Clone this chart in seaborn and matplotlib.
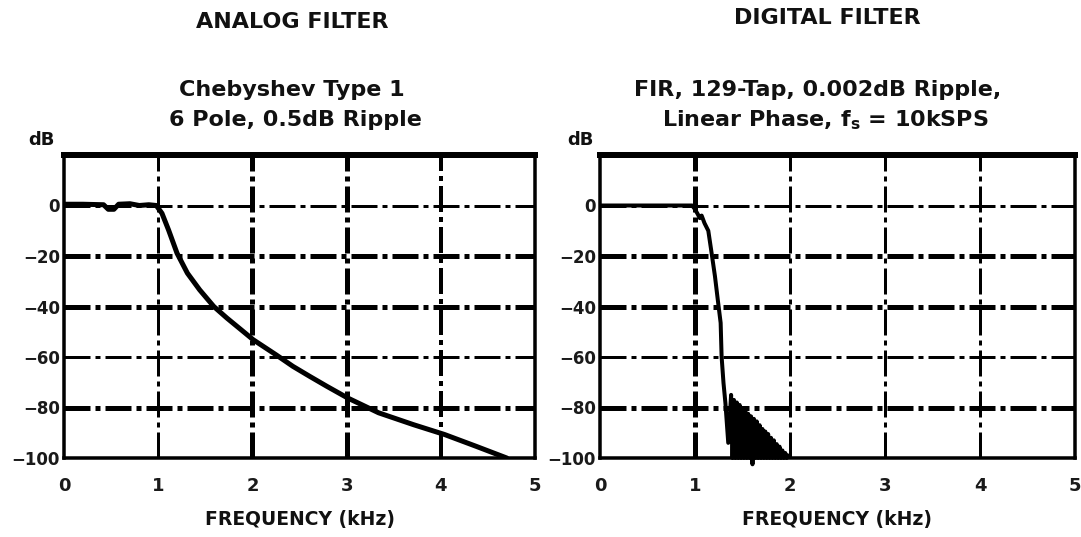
import matplotlib
matplotlib.use("Agg")
import matplotlib.pyplot as plt
import seaborn as sns

# ---------------- data ----------------
analog_freq = [0.0, 0.20, 0.42, 0.47, 0.53, 0.58, 0.70, 0.80, 0.90, 0.98,
               1.04, 1.11, 1.20, 1.31, 1.44, 1.59, 1.73, 1.88, 2.01, 2.25,
               2.43, 2.61, 2.79, 3.01, 3.34, 3.71, 4.04, 4.37, 4.70]
analog_db = [0.5, 0.5, 0.3, -1.5, -1.5, 0.5, 0.7, 0.0, 0.3, 0.0,
             -3.1, -9.7, -18.9, -26.8, -33.4, -40.0, -44.6, -49.2, -53.2, -59.1,
             -63.7, -67.7, -71.6, -76.2, -82.1, -86.8, -90.7, -95.3, -100.0]

# pass band + transition band of the FIR response
fir_freq_main = [0.0, 0.97, 1.00, 1.03, 1.05, 1.07, 1.10, 1.14, 1.17, 1.21,
                 1.24, 1.27, 1.28, 1.30, 1.32]
fir_db_main = [0.0, 0.0, -1.5, -3.5, -5.0, -4.0, -7.0, -10.0, -17.6, -28.0,
               -37.4, -46.5, -59.8, -70.3, -78.2]
# stop band ripple (lobe tops and nulls)
fir_freq_stop = [1.35, 1.38, 1.395, 1.41, 1.425, 1.44, 1.455, 1.47, 1.485, 1.50,
                 1.515, 1.53, 1.545, 1.56, 1.575, 1.59, 1.605, 1.62, 1.635, 1.65,
                 1.665, 1.68, 1.695, 1.71, 1.725, 1.74, 1.755, 1.77, 1.785, 1.80,
                 1.815, 1.83, 1.845, 1.86, 1.875, 1.89, 1.905, 1.92, 1.935, 1.95,
                 1.965, 1.98, 2.00]
fir_db_stop = [-94.0, -75.0, -100.0, -77.0, -100.0, -78.0, -100.0, -79.0, -100.0, -80.5,
               -100.0, -81.5, -100.0, -82.5, -100.0, -83.5, -102.5, -84.5, -100.0, -85.5,
               -100.0, -87.0, -100.0, -88.5, -100.0, -89.5, -100.0, -90.5, -100.0, -92.0,
               -100.0, -93.0, -100.0, -94.5, -100.0, -95.5, -100.0, -97.0, -100.0, -98.0,
               -100.0, -99.0, -100.0]
fir_freq = fir_freq_main + fir_freq_stop
fir_db = fir_db_main + fir_db_stop

x_ticks = [0, 1, 2, 3, 4, 5]
x_tick_labels = ["0", "1", "2", "3", "4", "5"]
y_ticks = [0, -20, -40, -60, -80, -100]
y_tick_labels = ["0", "\u221220", "\u221240", "\u221260", "\u221280", "\u2212100"]
grid_x = [1, 2, 3, 4]
grid_y = [0, -20, -40, -60, -80]

left_title = "ANALOG FILTER"
right_title = "DIGITAL FILTER"
left_sub = ["Chebyshev Type 1", "6 Pole, 0.5dB Ripple"]
right_sub = ["FIR, 129-Tap, 0.002dB Ripple,",
             r"Linear Phase, $\mathbf{f}_{\mathbf{s}}$ = 10kSPS"]
x_label = "FREQUENCY (kHz)"
y_unit = "dB"

# ---------------- style ----------------
sns.set_theme(style="white")
plt.rcParams['font.family'] = ['DejaVu Sans']
plt.rcParams['font.weight'] = 'bold'
plt.rcParams['mathtext.fontset'] = 'dejavusans'
plt.rcParams['lines.scale_dashes'] = False

W, H = 1081, 537
PT = 72 / 100.0  # px -> pt at dpi 100
DASH = (0, (26 * PT, 5 * PT, 5 * PT, 5 * PT))

fig = plt.figure(figsize=(W / 100, H / 100), dpi=100)
fig.patch.set_facecolor('white')
ax1 = fig.add_axes([64 / W, (H - 458) / H, 471 / W, 303 / H])
ax2 = fig.add_axes([600 / W, (H - 458) / H, 475 / W, 303 / H])


def style_axes(ax, vwidths, hwidths):
    ax.set_xlim(0, 5)
    ax.set_ylim(-100, 20)
    for x, w in zip(grid_x, vwidths):
        ax.axvline(x, color='black', lw=w * PT, ls=DASH, zorder=1)
    for y, w in zip(grid_y, hwidths):
        ax.axhline(y, color='black', lw=w * PT, ls=DASH, zorder=1)
    ax.set_xticks(x_ticks)
    ax.set_xticklabels(x_tick_labels, fontsize=13, fontweight='bold', color='#1a1a1a')
    ax.set_yticks(y_ticks)
    ax.set_yticklabels(y_tick_labels, fontsize=12, fontweight='bold', color='#1a1a1a')
    ax.tick_params(axis='x', length=0, pad=14)
    ax.tick_params(axis='y', length=0, pad=3)
    ax.set_xlabel("")
    ax.set_ylabel("")
    ax.grid(False)
    for name, sp in ax.spines.items():
        sp.set_visible(True)
        sp.set_color('black')
        sp.set_linewidth(3.5 * PT)
        sp.set_zorder(5)
    ax.spines['top'].set_linewidth(6 * PT)


style_axes(ax1, [3, 5, 5, 4], [3, 5, 5, 3, 5])
style_axes(ax2, [5, 3, 3, 3], [3, 5, 5, 3, 5])

sns.lineplot(x=analog_freq, y=analog_db, ax=ax1, color='black', lw=5 * PT,
             sort=False, estimator=None, zorder=3)
sns.lineplot(x=fir_freq, y=fir_db, ax=ax2, color='black', lw=4 * PT,
             sort=False, estimator=None, zorder=3, clip_on=False,
             solid_capstyle='butt')

# ---------------- texts ----------------
def ftxt(x, y, s, size, **kw):
    fig.text(x / W, 1 - y / H, s, fontsize=size, fontweight='bold',
             ha='center', va='center', color='#111111', **kw)

ftxt(292, 22, left_title, 16)
ftxt(827, 18, right_title, 16)
ftxt(292, 90, left_sub[0], 16)
ftxt(295, 120, left_sub[1], 16)
ftxt(818, 90, right_sub[0], 16)
ftxt(825, 120, right_sub[1], 16)
ftxt(41, 140, y_unit, 13)
ftxt(580, 140, y_unit, 13)
ftxt(300, 519, x_label, 13.5)
ftxt(837, 519, x_label, 13.5)

fig.savefig("out.png", dpi=100, facecolor='white')
